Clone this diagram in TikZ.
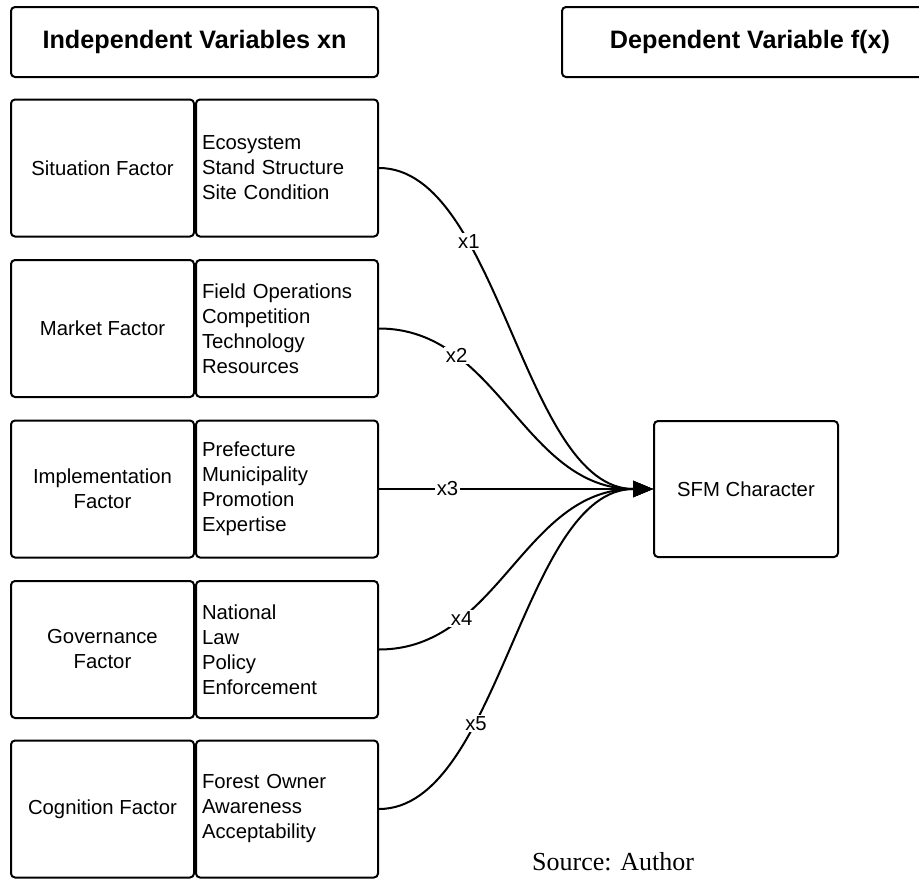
\documentclass[tikz,border=0pt]{standalone}
\usepackage{fontspec}
\setmainfont{Liberation Sans}
\newfontfamily\srcfont{Liberation Serif}
\usetikzlibrary{arrows.meta}
\tikzset{
  box/.style={draw, line width=2pt, rounded corners=4pt, inner sep=0pt},
  headbox/.style={box, minimum height=70pt, font=\fontsize{25.2}{29}\selectfont\bfseries},
  leftbox/.style={box, minimum width=183pt, minimum height=137pt, align=center,
     font=\fontsize{20.3}{25}\selectfont},
  rightbox/.style={box, minimum width=182pt, minimum height=137pt, align=left,
     text width=170pt, font=\fontsize{20.3}{25}\selectfont},
  sfmbox/.style={box, minimum width=184pt, minimum height=136pt, font=\fontsize{20.3}{25}\selectfont},
  link/.style={line width=2pt, -{Triangle[length=20pt,width=16pt]}},
  lbl/.style={fill=white, inner sep=1.5pt, font=\fontsize{20.3}{24}\selectfont}
}
\begin{document}
\begin{tikzpicture}[x=1pt,y=-1pt]
\useasboundingbox (0,0) rectangle (919,879);
\fill[white] (0,0) rectangle (919,879);
\node[headbox, minimum width=367pt] (hl) at (194.5,42) {Independent Variables xn};
\node[headbox, minimum width=376pt] (hr) at (750,42) {Dependent Variable f(x)};

\node[leftbox] (l1) at (102.5,168) {Situation Factor};
\node[rightbox] (r1) at (287,168) {Ecosystem\\Stand Structure\\Site Condition};
\node[leftbox] (l2) at (102.5,328.5) {Market Factor};
\node[rightbox] (r2) at (287,328.5) {Field Operations\\Competition\\Technology\\Resources};
\node[leftbox] (l3) at (102.5,489) {Implementation\\Factor};
\node[rightbox] (r3) at (287,489) {Prefecture\\Municipality\\Promotion\\Expertise};
\node[leftbox] (l4) at (102.5,649.5) {Governance\\Factor};
\node[rightbox] (r4) at (287,649.5) {National\\Law\\Policy\\Enforcement};
\node[leftbox] (l5) at (102.5,809) {Cognition Factor};
\node[rightbox] (r5) at (287,809) {Forest Owner\\Awareness\\Acceptability};

\node[sfmbox] (sfm) at (746,489) {SFM Character};

\draw[link] (r1.east) .. controls +(120,0) and +(-130,0) .. (sfm.west) node[lbl, pos=0.31] {x1};
\draw[link] (r2.east) .. controls +(120,0) and +(-130,0) .. (sfm.west) node[lbl, pos=0.26] {x2};
\draw[link] (r3.east) -- (sfm.west) node[lbl, pos=0.25] {x3};
\draw[link] (r4.east) .. controls +(120,0) and +(-130,0) .. (sfm.west) node[lbl, pos=0.28] {x4};
\draw[link] (r5.east) .. controls +(120,0) and +(-130,0) .. (sfm.west) node[lbl, pos=0.34] {x5};

\node[anchor=base west, inner sep=0pt, font=\srcfont\fontsize{26}{30}\selectfont] (src) at (532,870) {Source: Author};
\end{tikzpicture}
\end{document}
